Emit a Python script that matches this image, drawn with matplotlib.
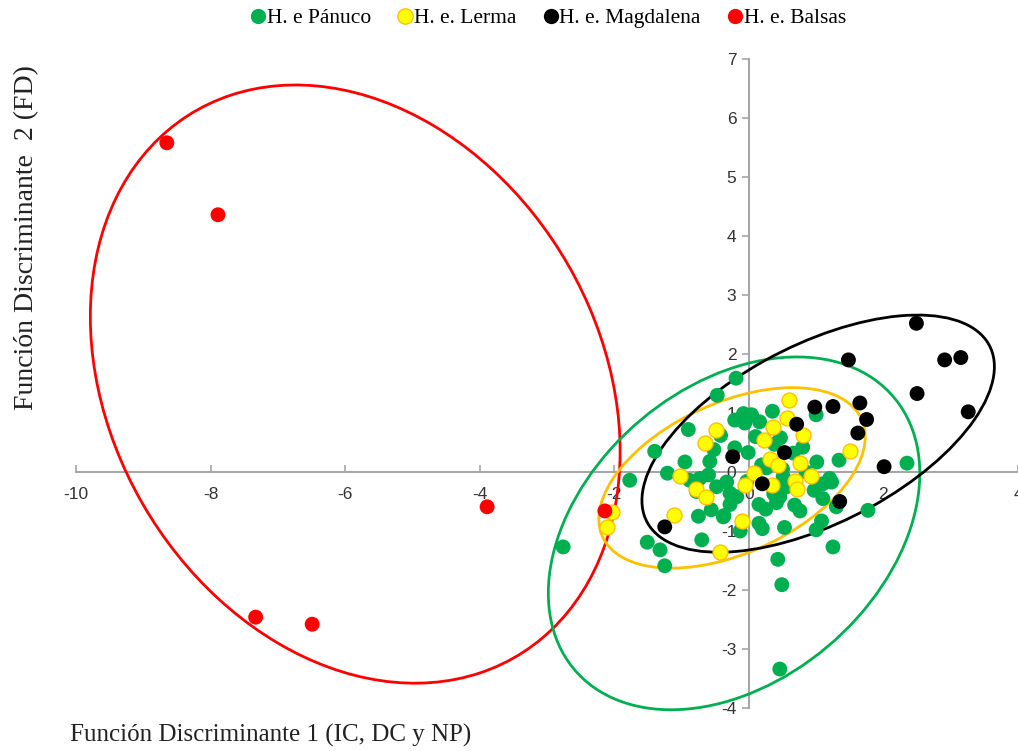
import numpy as np
import matplotlib
matplotlib.use("Agg")
import matplotlib.pyplot as plt
from matplotlib.patches import Ellipse
from matplotlib.lines import Line2D

plt.rcParams["axes.unicode_minus"] = False

# --- data ---
panuco_x = [-0.19, -0.47, 0.35, -0.08, 0.04, -0.21, -0.06, 0.16, -0.90, -0.42,
            0.47, 0.38, 0.80, -1.40, -0.21, -0.01, -0.95, -0.58, 0.19, 1.01,
            1.34, -1.77, -1.21, -0.48, -0.33, -0.28, 0.51, 0.56, 0.97, 1.10,
            1.23, 0.37, 0.41, 0.15, 0.25, -0.28, -0.37, -0.56, -0.75, 0.68,
            0.76, 0.53, 0.15, 0.20, -0.13, 1.08, 1.00, 1.77, -0.70, -1.51,
            -1.32, -1.25, -2.76, 0.43, 1.25, 0.49, 0.46, 1.00, 2.35, 0.66,
            1.20, -0.73, -0.88, -0.78, -0.18, -0.38, 0.46, 1.30, 1.10, -0.03,
            0.26, 0.50, -0.52, 0.10, -0.60, 0.85]
panuco_y = [1.59, 1.30, 1.03, 0.99, 0.97, 0.88, 0.83, 0.85, 0.72, 0.62,
            0.58, 0.47, 0.42, 0.35, 0.41, 0.33, 0.17, 0.18, 0.12, 0.17,
            0.20, -0.14, -0.02, -0.25, -0.17, -0.36, -0.08, -0.25, -0.31, -0.20,
            -0.17, -0.37, -0.52, -0.55, -0.63, -0.55, -0.74, -0.64, -0.75, -0.56,
            -0.66, -0.94, -0.87, -0.96, -1.00, -0.83, -0.98, -0.65, -1.15, -1.19,
            -1.32, -1.59, -1.27, -1.48, -1.27, -1.91, -3.34, 0.97, 0.15, 0.32,
            -0.11, -0.11, -0.14, -0.33, -0.42, -0.76, -0.42, -0.59, -0.45, -0.16,
            0.07, 0.05, 0.38, 0.60, -0.05, 0.00]

lerma_x = [0.59, 0.57, 0.36, 0.81, 0.22, -0.49, -0.65, 1.50, 0.31, 0.44,
           0.76, 0.92, 0.08, -1.03, -0.78, -0.64, -0.05, 0.35, 0.69, 0.72,
           -1.11, -0.10, -0.43, -2.04, -2.11]
lerma_y = [1.22, 0.91, 0.77, 0.63, 0.54, 0.71, 0.50, 0.36, 0.22, 0.12,
           0.15, -0.06, -0.01, -0.07, -0.28, -0.42, -0.22, -0.22, -0.16, -0.29,
           -0.73, -0.83, -1.35, -0.67, -0.93]

magdalena_x = [-1.25, -0.24, 0.53, 0.20, 0.71, 0.98, 1.25, 1.65, 1.75, 1.62,
               1.35, 1.48, 2.49, 2.91, 3.15, 2.50, 3.26, 2.01]
magdalena_y = [-0.93, 0.26, 0.33, -0.20, 0.81, 1.10, 1.11, 1.17, 0.89, 0.66,
               -0.50, 1.90, 2.52, 1.90, 1.94, 1.33, 1.02, 0.09]

balsas_x = [-8.65, -7.89, -3.89, -2.14, -7.33, -6.49]
balsas_y = [5.58, 4.36, -0.59, -0.66, -2.46, -2.58]

# ellipse: centre x, centre y, var x, var y, cov xy
ell_panuco = [-0.22, -1.04, 7.62, 8.94, 2.8]
ell_lerma = [-0.25, -0.10, 3.92, 2.34, 1.38]
ell_magdalena = [1.03, 0.65, 6.86, 4.04, 2.97]
ell_balsas = [-5.85, 1.49, 15.5, 25.7, -4.5]

x_ticks = list(range(-10, 5, 2))
y_ticks = list(range(-4, 8, 1))

GREEN = "#00B050"
YELLOW = "#FFFF00"
ORANGE = "#FFC000"
RED = "#FF0000"


def add_ellipse(ax, params, color):
    cx, cy, a, b, c = params
    vals, vecs = np.linalg.eigh(np.array([[a, c], [c, b]]))
    big = vecs[:, 1]
    angle = np.degrees(np.arctan2(big[1], big[0]))
    e = Ellipse((cx, cy), 2 * np.sqrt(vals[1]), 2 * np.sqrt(vals[0]),
                angle=angle, fill=False, edgecolor=color, linewidth=2.0,
                zorder=3, clip_on=False)
    ax.add_patch(e)


fig = plt.figure(figsize=(10.18, 7.51), dpi=100)
ax = fig.add_axes([76 / 1018, 43 / 751, 942 / 1018, 649 / 751])

ax.scatter(panuco_x, panuco_y, s=115, color=GREEN, edgecolors="none", zorder=4)
ax.scatter(lerma_x, lerma_y, s=115, color=YELLOW, edgecolors=ORANGE, linewidths=1.0, zorder=5)
ax.scatter(magdalena_x, magdalena_y, s=115, color="black", edgecolors="none", zorder=5)
ax.scatter(balsas_x, balsas_y, s=115, color=RED, edgecolors="none", zorder=5)

add_ellipse(ax, ell_balsas, RED)
add_ellipse(ax, ell_panuco, GREEN)
add_ellipse(ax, ell_lerma, ORANGE)
add_ellipse(ax, ell_magdalena, "black")

ax.set_xlim(-10, 4)
ax.set_ylim(-4, 7)
ax.set_xticks(x_ticks)
ax.set_yticks(y_ticks)

for side in ["top", "right"]:
    ax.spines[side].set_visible(False)
ax.spines["left"].set_position(("data", 0))
ax.spines["bottom"].set_position(("data", 0))
for side in ["left", "bottom"]:
    ax.spines[side].set_color("#A6A6A6")
    ax.spines[side].set_linewidth(1.5)
    ax.spines[side].set_zorder(1)

ax.tick_params(axis="x", direction="in", length=5, width=1.2, color="#A6A6A6",
               pad=11, labelsize=12.5, labelcolor="#333333")
ax.tick_params(axis="y", direction="out", length=5, width=1.2, color="#A6A6A6",
               pad=4, labelsize=12.5, labelcolor="#333333")
for lab in ax.get_xticklabels() + ax.get_yticklabels():
    lab.set_family("Liberation Sans")

serif = "Liberation Serif"
fig.text(70 / 1018, 1 - 735 / 751, "Función Discriminante 1 (IC, DC y NP)",
         family=serif, fontsize=18, color="#222222", ha="left", va="center")
fig.text(27 / 1018, 1 - 238 / 751, "Función Discriminante  2 (FD)",
         family=serif, fontsize=20, color="#222222", rotation=90,
         ha="center", va="center")

handles = [Line2D([], [], linestyle="none", marker="o", markersize=11,
                  markerfacecolor=GREEN, markeredgecolor="none"),
           Line2D([], [], linestyle="none", marker="o", markersize=11,
                  markerfacecolor=YELLOW, markeredgecolor=ORANGE),
           Line2D([], [], linestyle="none", marker="o", markersize=11,
                  markerfacecolor="black", markeredgecolor="none"),
           Line2D([], [], linestyle="none", marker="o", markersize=11,
                  markerfacecolor=RED, markeredgecolor="none")]
labels = ["H. e Pánuco", "H. e. Lerma", "H. e. Magdalena", "H. e. Balsas"]
fig.legend(handles, labels, loc="center", bbox_to_anchor=(0.539, 0.976), ncol=4,
           frameon=False, handlelength=0.6, handletextpad=0.1, columnspacing=1.3,
           prop={"family": serif, "size": 15.5})

fig.savefig("out.png", dpi=100)
